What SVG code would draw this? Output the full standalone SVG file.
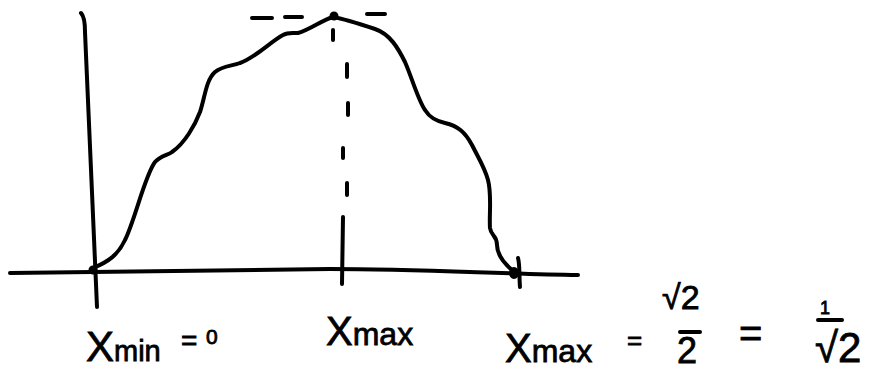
<svg xmlns="http://www.w3.org/2000/svg" width="876" height="372" viewBox="0 0 876 372">
<style>
.ink{fill:none;stroke:#000;stroke-width:4;stroke-linecap:round;stroke-linejoin:round}
.dash{fill:none;stroke:#000;stroke-width:4;stroke-linecap:round}
text{font-family:"Liberation Sans","DejaVu Sans",sans-serif;fill:#000;stroke:#000;stroke-width:0.8}
</style>
<rect width="876" height="372" fill="#fff"/>
<g id="axes">
<path class="ink" d="M81,13 C84,16 85,22 85,32 L97,307"/>
<path class="ink" d="M10,273 C150,272 250,269 330,269 C420,269 500,274 578,275"/>
</g>
<g id="curve">
<path class="ink" d="M93,268 C108,262 118,255 125,240 C135,220 145,175 155,162 C160,156 168,155 172,152 C185,143 195,125 200,112 C205,97 206,80 215,72 C222,66 232,66 240,63 C255,58 270,42 283,35 C288,32 292,33 298,33 C310,30 322,20 333,17 C345,19 360,24 375,29 C390,34 398,48 405,62 C412,78 418,100 425,110 C430,118 436,121 445,123 C458,126 465,132 472,145 C478,157 485,168 488,180 C492,195 489,215 490,228 C491,236 497,235 497,245 C497,256 505,264 512,270 L515,275"/>
<circle cx="93" cy="270" r="4.5" fill="#000"/>
<circle cx="334" cy="16" r="4.5" fill="#000"/>
<ellipse cx="514" cy="273" rx="3" ry="4" class="ink" stroke-width="3"/>
<path class="ink" d="M518,258 C520,265 519,275 520,287"/>
</g>
<g id="guides">
<path class="dash" d="M252,18 L272,18 M285,17 L302,17 M367,14 L385,14"/>
<path class="dash" d="M333,30 L333,40 M347,64 L347,77 M348,103 L348,115 M343,148 L343,158 M347,183 L347,195"/>
<path class="ink" d="M343,217 L342,284"/>
</g>
<g id="labels">
<text x="86" y="361" font-size="42">X<tspan font-size="29">min</tspan></text>
<text x="181" y="350" font-size="28">=</text>
<text x="206" y="344" font-size="21">0</text>
<text x="326" y="345" font-size="40">X<tspan font-size="32">max</tspan></text>
<text x="505" y="362" font-size="40">X<tspan font-size="32">max</tspan></text>
<text x="627" y="349" font-size="26">=</text>
<text x="662" y="309" font-size="34">√2</text>
<path class="ink" d="M680,332 L700,332"/>
<text x="677" y="363" font-size="36">2</text>
<text x="739" y="347" font-size="40">=</text>
<text x="820" y="314" font-size="18">1</text>
<path class="ink" d="M818,320 L842,320"/>
<text x="815" y="362" font-size="42">√2</text>
</g>
</svg>
